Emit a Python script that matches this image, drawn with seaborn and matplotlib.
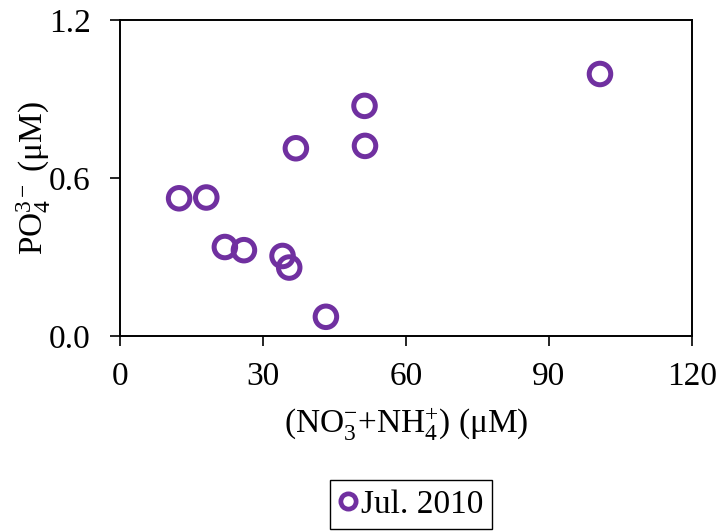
import matplotlib
matplotlib.use("Agg")
import matplotlib.pyplot as plt
import seaborn as sns
import pandas as pd

# Nutrient concentrations, July 2010 survey
nitrogen = [100.7, 51.3, 51.4, 36.9, 12.4, 18.1, 22.0, 26.0, 34.1, 35.5, 43.2]
phosphate = [0.995, 0.874, 0.722, 0.713, 0.523, 0.526, 0.338, 0.326, 0.304, 0.260, 0.073]
series = ["Jul. 2010"] * len(nitrogen)
x_ticks = [0, 30, 60, 90, 120]
y_ticks = [0.0, 0.6, 1.2]

df = pd.DataFrame({"N": nitrogen, "P": phosphate, "Survey": series})

sns.set_theme(style="white")
plt.rcParams["font.family"] = ["Liberation Serif", "DejaVu Serif"]
plt.rcParams["mathtext.fontset"] = "custom"
plt.rcParams["mathtext.rm"] = "Liberation Serif"
plt.rcParams["mathtext.it"] = "Liberation Serif:italic"
plt.rcParams["mathtext.default"] = "rm"
plt.rcParams["text.color"] = "black"

purple = "#7030A0"
fs = 24
fig = plt.figure(figsize=(7.19, 5.31), dpi=100)
ax = fig.add_axes([0.1669, 0.3672, 0.7955, 0.5951])

sns.scatterplot(data=df, x="N", y="P", hue="Survey", palette=[purple],
                marker="o", s=240, linewidth=3.6, ax=ax, legend=False)
# hollow circles
for coll in ax.collections:
    coll.set_facecolor("none")
    coll.set_edgecolor(purple)

ax.set_xlim(0, 120)
ax.set_ylim(0, 1.2)
ax.set_xticks(x_ticks)
ax.set_yticks(y_ticks)
ax.set_xticklabels([str(t) for t in x_ticks])
ax.set_yticklabels([f"{t:.1f}" for t in y_ticks])
ax.tick_params(axis="both", which="major", direction="out", length=7,
               width=1.2, color="black", labelsize=fs, labelcolor="black",
               bottom=True, left=True)
ax.tick_params(axis="x", pad=11)
ax.tick_params(axis="y", pad=14)
for sp in ax.spines.values():
    sp.set_visible(True)
    sp.set_color("black")
    sp.set_linewidth(1.4)

ax.set_xlabel("(NO$_3^{-}$+NH$_4^{+}$) (μM)", fontsize=fs, color="black", labelpad=10)
ax.set_ylabel("PO$_4^{3-}$ (μM)", fontsize=fs, color="black", labelpad=-3)

handle = plt.Line2D([], [], linestyle="none", marker="o", markersize=11,
                    markerfacecolor="none", markeredgecolor=purple,
                    markeredgewidth=3.4)
fig.legend([handle], ["Jul. 2010"], loc="upper center",
           bbox_to_anchor=(0.572, 0.096), frameon=True, fancybox=False,
           edgecolor="black", fontsize=fs, labelcolor="black",
           handlelength=0.5, handletextpad=0.15, borderpad=0.27,
           borderaxespad=0, framealpha=1)

fig.savefig("out.png", dpi=100, facecolor="white")
